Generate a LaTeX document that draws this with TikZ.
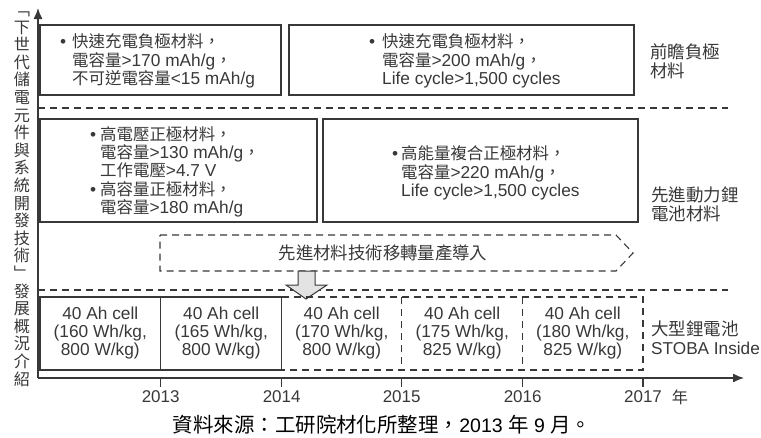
\documentclass[tikz,border=0pt]{standalone}
\usepackage{fontspec}
\setmainfont{Liberation Sans}
\newfontfamily\cjk{Noto Sans CJK TC}[Scale=0.95]
\newfontfamily\cjkcap{Noto Sans CJK TC}[Scale=1.05]
\newcommand\ZH[1]{{\cjk #1}}
\newcommand\ZHC[1]{{\cjkcap #1}}
\usetikzlibrary{arrows.meta}
\definecolor{ink}{gray}{0.22}
\begin{document}
\begin{tikzpicture}[x=1pt,y=-1pt,
  box/.style={draw=ink, line width=1.1pt},
  dbox/.style={draw=ink, line width=1.1pt, dash pattern=on 7pt off 5pt},
  txt/.style={inner sep=0pt, align=left, text=ink, font=\fontsize{17.3}{18.3}\selectfont},
  ctxt/.style={txt, align=center},
  lbl/.style={inner sep=0pt, align=left, text=ink, font=\fontsize{18.4}{19}\selectfont},
  yr/.style={inner sep=0pt, text=ink, font=\fontsize{17}{18}\selectfont},
  axis/.style={draw=ink, line width=1.3pt, -{Latex[length=11pt,width=9pt]}}]
\useasboundingbox (0,0) rectangle (761,437);

% axes
\coordinate (O) at (38,378);
\coordinate (ytop) at (38,8);
\coordinate (xend) at (744,378);
\draw[axis] (O) -- (ytop);
\draw[axis] (O) -- (xend);
\foreach \x/\n in {160.7/a,281.7/b,401.7/c,522.7/d,643/e}{
  \coordinate (tk\n) at (\x,378);
  \coordinate (tb\n) at (\x,387);
  \draw[ink, line width=1.1pt] (tk\n) -- (tb\n);
}

% vertical title
\node[inner sep=0pt, align=center, text=ink, font=\cjk\fontsize{17}{17.6}\selectfont] (vt) at (22,199)
 {﹁\\下\\世\\代\\儲\\電\\元\\件\\與\\系\\統\\開\\發\\技\\術\\﹂\\發\\展\\概\\況\\介\\紹};

% top row
\draw[box] (40,25) rectangle (281,95);
\draw[box] (289,25) rectangle (634,95);
\node[txt, anchor=west] (t1) at (72,61)
 {\leavevmode\llap{•\hspace{6pt}}\ZH{快速充電負極材料，}\\\ZH{電容量}>170 mAh/g\ZH{，}\\\ZH{不可逆電容量}<15 mAh/g};
\node[txt, anchor=west] (t2) at (382,61)
 {\leavevmode\llap{•\hspace{7pt}}\ZH{快速充電負極材料，}\\\ZH{電容量}>200 mAh/g\ZH{，}\\Life cycle>1,500 cycles};
\node[lbl, anchor=west] (r1) at (650,61.5) {\ZH{前瞻負極}\\\ZH{材料}};

\draw[dbox] (38,108) -- (728,108);

% middle row
\draw[box] (40,119) rectangle (317,222);
\draw[box] (323,119) rectangle (638,222);
\node[txt, anchor=west] (m1) at (100,171.6)
 {\leavevmode\llap{•\hspace{4pt}}\ZH{高電壓正極材料，}\\\ZH{電容量}>130 mAh/g\ZH{，}\\\ZH{工作電壓}>4.7 V\\\leavevmode\llap{•\hspace{4pt}}\ZH{高容量正極材料，}\\\ZH{電容量}>180 mAh/g};
\node[txt, anchor=west] (m2) at (401,173)
 {\leavevmode\llap{•\hspace{3pt}}\ZH{高能量複合正極材料，}\\\ZH{電容量}>220 mAh/g\ZH{，}\\Life cycle>1,500 cycles};
\node[lbl, anchor=west] (r2) at (651,204) {\ZH{先進動力鋰}\\\ZH{電池材料}};

% transfer banner
\draw[dbox] (160,235) -- (616,235) -- (633,253) -- (616,271) -- (160,271) -- cycle;
\node[txt, font=\fontsize{18.3}{19}\selectfont] (ban) at (383,253) {\ZH{先進材料技術移轉量產導入}};

\draw[dbox] (38,290) -- (728,290);

% down arrow
\draw[ink, fill=gray!22, line width=1pt] (298,271) -- (315,271) -- (315,285) -- (327,285) -- (306,299) -- (286,285) -- (298,285) -- cycle;

% bottom row
\draw[box] (40,297) rectangle (281.7,370);
\draw[box] (160.7,297) -- (160.7,370);
\draw[dbox] (281.7,297) -- (643,297) -- (643,370) -- (281.7,370);
\draw[dbox] (401.7,297) -- (401.7,370);
\draw[dbox] (522.7,297) -- (522.7,370);
\node[ctxt] (c1) at (100.3,333) {40 Ah cell\\(160 Wh/kg,\\800 W/kg)};
\node[ctxt] (c2) at (221.2,333) {40 Ah cell\\(165 Wh/kg,\\800 W/kg)};
\node[ctxt] (c3) at (341.7,333) {40 Ah cell\\(170 Wh/kg,\\800 W/kg)};
\node[ctxt] (c4) at (462.2,333) {40 Ah cell\\(175 Wh/kg,\\825 W/kg)};
\node[ctxt] (c5) at (582.8,333) {40 Ah cell\\(180 Wh/kg,\\825 W/kg)};
\node[lbl, anchor=west] (r3) at (651,337.5) {\ZH{大型鋰電池}\\{\fontsize{17.2}{19}\selectfont STOBA Inside}};

% years
\node[yr] (y13) at (160.7,397) {2013};
\node[yr] (y14) at (281.7,397) {2014};
\node[yr] (y15) at (401.7,397) {2015};
\node[yr] (y16) at (522.7,397) {2016};
\node[yr] (y17) at (643,397) {2017};
\node[yr, font=\cjk\fontsize{17}{18}\selectfont] (nian) at (680,397) {年};

% caption
\node[inner sep=0pt, font=\fontsize{19.5}{20}\selectfont] (cap) at (382,424.5)
 {\ZHC{資料來源：工研院材化所整理，}2013 \ZHC{年} 9 \ZHC{月。}};
\end{tikzpicture}
\end{document}
